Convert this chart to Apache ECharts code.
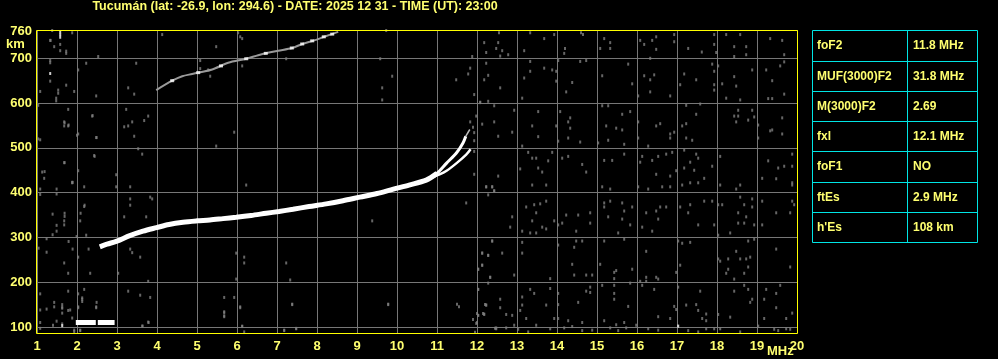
<!DOCTYPE html>
<html><head><meta charset="utf-8">
<script src="https://cdn.jsdelivr.net/npm/echarts@6/dist/echarts.min.js"></script>
<style>html,body{margin:0;padding:0;background:#000;}#c{width:998px;height:359px;}</style>
</head><body><div id="c"></div>
<script>
const titleText = "Tucumán (lat: -26.9, lon: 294.6) - DATE: 2025 12 31 - TIME (UT): 23:00";
const yLabels = [100, 200, 300, 400, 500, 600, 700, 760];
const yGrid = [100, 200, 300, 400, 500, 600, 700];
const tableRows = ["foF2", "MUF(3000)F2", "M(3000)F2", "fxl", "foF1", "ftEs", "h'Es"];
const tableVals = ["11.8 MHz", "31.8 MHz", "2.69", "12.1 MHz", "NO", "2.9 MHz", "108 km"];

// F2 ordinary trace (MHz, km)
const f2Main = [[2.57,279],[2.75,285],[2.98,291],[3.32,304],[3.65,314],[3.99,322],[4.3,329],[4.65,334],[5.0,337],[5.32,339],[5.65,342],[5.98,345],[6.35,349],[6.73,354],[7.05,358],[7.40,363],[7.8,369],[8.23,375],[8.65,382],[9.07,390],[9.5,398],[9.91,408],[10.3,417],[10.73,428],[11.0,443]];
const f2Upper = [[10.9,437],[11.0,443],[11.24,466],[11.49,489],[11.65,511],[11.72,526]];
const f2Tail = [[11.72,526],[11.82,541]];
const f2X = [[10.85,433],[11.05,440],[11.24,449],[11.49,466],[11.73,485],[11.84,497]];
// second-hop F trace
const f2Hop = [[3.98,629],[4.38,650],[4.63,660],[4.88,665],[5.08,669],[5.38,675],[5.78,690],[6.23,699],[6.53,707],[6.8,713],[7.03,717],[7.38,723],[7.63,732],[7.93,740],[8.18,748],[8.53,759]];
const f2HopWhite = [[4.38,650],[5.03,668],[5.6,683],[6.23,699],[6.72,711],[7.37,723],[7.63,732],[7.88,739],[8.17,748],[8.38,754]];
// sporadic E trace
const esTrace = [[1.97,110],[2.47,110],null,[2.52,110],[2.94,110]];
// white isolated echoes
const noiseWhite = [[1.58,759],[1.58,753],[1.58,747],[1.33,666],[1.63,103],[17.03,102]];
// gray noise echoes
const noiseGray = [
[12.55,757],[12.18,735],[12.53,735],[12.48,722],[12.23,713],[12.63,717],[12.58,705],[12.78,708],
[13.33,757],[13.68,744],[13.93,753],[13.18,717],[14.6,757],[14.65,753],[14.2,722],[14.18,711],
[15.18,744],[15.33,735],[15.08,722],[15.33,722],[16.08,740],[16.18,731],[16.38,740],[16.48,748],[16.48,720],[16.93,753],[16.93,737],
[17.28,722],[17.62,714],[17.93,753],[17.93,731],[17.98,713],[18.23,753],[18.58,753],[18.43,726],[18.73,726],[18.73,708],[18.43,704],
[19.33,744],[19.63,740],[19.68,708],
[12.23,689],[13.33,693],[13.68,678],[12.28,662],[12.18,652],[12.58,634],[13.18,656],[13.33,671],[13.88,674],[13.98,671],[13.98,649],[13.13,611],
[14.38,646],[14.23,625],[14.03,695],[14.58,693],[14.73,695],[15.13,661],[15.78,687],[15.88,643],[16.03,616],[16.33,700],[16.18,661],[16.33,652],
[16.43,663],[16.33,625],[16.83,616],[17.08,641],[17.18,665],[17.48,652],[17.88,687],[17.93,671],[17.93,641],[17.93,629],[18.03,683],[18.13,643],
[18.43,659],[18.48,638],[18.23,611],[18.58,607],[18.88,674],[19.23,674],[19.38,650],[19.58,683],[19.68,692],[19.28,610],[19.38,610],[19.68,620],[12.08,601],[12.28,604],
[12.43,594],[12.93,584],[12.43,558],[12.13,553],[12.53,526],[12.88,535],[13.53,581],[13.38,549],[13.53,525],[13.13,504],[14.08,581],[14.33,567],
[14.28,558],[14.33,544],[13.98,549],[14.28,522],[14.03,515],[14.58,513],[15.13,594],[15.28,594],[15.63,575],[15.83,581],[15.23,549],[15.48,544],
[15.63,540],[15.28,517],[15.68,508],[15.03,511],[16.03,558],[16.48,549],[16.58,554],[16.83,531],[16.83,522],[16.93,535],[16.03,522],[16.28,504],
[17.23,595],[17.48,575],[17.58,598],[17.13,549],[17.23,554],[17.23,522],[17.38,517],[18.53,584],[18.43,571],[18.53,571],[18.88,584],[18.93,569],
[18.48,558],[18.78,562],[19.03,551],[19.03,522],[19.33,538],[19.38,540],[19.63,567],[19.63,531],
[13.28,490],[13.38,477],[13.48,477],[13.78,471],[13.88,490],[13.53,455],[13.63,446],[13.08,453],[12.53,437],[14.13,477],[14.28,481],[14.63,463],
[14.73,446],[15.18,472],[15.38,472],[15.68,486],[16.13,481],[16.08,468],[16.38,472],[16.53,481],[16.73,486],[16.88,490],[16.48,441],[16.83,437],
[16.98,449],[17.18,495],[17.33,468],[17.48,486],[17.53,477],[17.18,455],[17.43,450],[17.68,432],[17.88,459],[18.08,481],[19.28,471],[19.53,455],
[19.68,459],[19.88,486],[19.88,459],[19.13,432],[19.48,431],
[12.23,413],[12.38,413],[12.43,404],[13.38,417],[13.73,417],[15.13,413],[15.33,408],[16.03,413],[16.28,408],[16.63,413],[16.83,413],[17.13,417],
[17.33,422],[17.53,422],[18.08,417],[18.58,417],[18.48,408],[19.88,422],[19.88,417],
[12.28,395],[13.23,368],[13.43,373],[13.58,375],[13.73,381],[13.48,355],[12.88,346],[12.83,323],[13.38,337],[13.63,323],[13.73,319],[13.33,310],
[13.48,310],[13.13,314],[13.93,337],[14.03,328],[14.23,350],[14.53,350],[14.83,355],[14.13,332],[14.83,332],[14.48,314],[15.18,377],[15.33,381],
[15.18,368],[15.28,346],[15.63,377],[15.88,368],[15.68,359],[15.53,310],[15.83,328],[15.63,341],[16.23,355],[16.48,359],[16.58,368],[16.73,368],
[16.53,341],[16.13,323],[16.38,314],[17.08,368],[17.28,355],[17.33,373],[17.68,381],[17.88,381],[17.53,328],[17.93,328],[18.03,373],[18.13,373],
[18.58,390],[18.68,373],[18.53,355],[18.73,346],[18.53,332],[18.68,332],[18.88,386],[18.88,368],[19.13,381],[18.93,328],[19.13,328],[19.48,355],
[19.83,355],[19.88,381],[19.93,373],[18.03,305],[18.33,310],
[12.38,292],[12.13,265],[12.28,260],[12.63,265],[12.13,238],[12.03,229],[12.33,211],[13.13,289],[13.13,265],[12.93,216],[14.03,283],[14.43,278],
[14.63,292],[14.48,292],[14.38,240],[14.43,216],[14.73,216],[14.88,216],[13.83,208],[15.08,240],[15.18,292],[15.48,226],[15.43,222],[15.43,208],
[15.88,229],[15.68,296],[16.23,269],[16.23,211],[16.08,202],[16.23,202],[16.48,211],[16.53,207],[16.98,222],[17.03,292],[17.13,287],[17.33,289],
[17.08,238],[18.03,252],[18.08,247],[18.28,252],[18.48,269],[18.58,252],[18.73,252],[18.83,256],[18.28,229],[18.23,220],[18.43,207],[18.68,220],
[18.78,234],[18.78,292],[18.93,296],[19.48,274],[19.83,234],
[12.03,184],[12.28,198],[12.58,162],[12.58,143],[12.23,149],[12.18,128],[12.03,126],[12.73,128],[12.88,126],[12.93,104],[13.13,167],[13.13,149],
[13.08,137],[13.23,119],[13.33,184],[13.43,175],[13.83,186],[13.48,104],[13.73,149],[13.93,119],[14.03,175],[14.03,150],[14.03,119],[14.53,155],
[14.28,114],[14.38,101],[14.63,110],[14.83,189],[14.83,177],[14.73,180],[15.13,193],[15.43,193],[15.43,175],[15.43,162],[15.78,146],[15.18,114],
[15.48,105],[15.68,110],[15.83,198],[16.13,193],[16.43,184],[16.53,123],[16.93,146],[16.98,139],[16.83,119],[17.03,189],[17.23,149],[17.48,150],
[17.58,180],[17.53,137],[17.73,129],[17.73,114],[17.63,119],[18.03,128],[18.33,122],[18.43,180],[18.68,193],[18.78,184],[18.88,162],[18.83,155],
[19.18,162],[19.23,184],[19.48,175],[19.48,143],[19.58,193],[19.18,119],[19.73,119],[19.88,131],
[12.48,98],[12.73,98],[13.03,95],[13.28,89],[13.83,96],[14.18,98],[14.63,92],[14.88,93],[15.33,98],[15.53,92],[15.73,98],[15.98,104],[16.28,96],
[16.53,93],[17.28,92],[17.53,89],[17.73,96],[17.93,96],[18.08,96],[18.58,89],[19.03,102],[19.43,95],[19.53,92],[19.73,96],[19.83,95],
[1.38,762],[1.58,731],[1.43,726],[1.58,717],[1.73,716],[1.73,711],[1.33,695],[1.33,690],[1.33,649],[1.08,626],[1.53,629],[1.53,622],[1.48,611],
[1.48,605],[1.73,640],[1.93,626],[2.03,674],[2.23,689],[2.48,616],[2.53,704],[1.03,595],[1.78,586],[1.68,558],[1.68,549],[1.78,549],[2.03,531],
[2.48,523],[1.03,520],[2.38,571],[2.43,483],[1.68,467],[2.03,449],[1.13,446],[1.18,432],[2.98,440],[1.88,423],[1.34,740],[1.88,757],[1.33,740],
[3.28,634],[3.43,620],[3.48,689],[3.23,586],[3.18,547],[3.28,549],[3.38,558],[3.68,561],[3.78,571],[3.43,526],[3.53,498],[3.63,486],[4.13,753],
[5.08,695],[5.08,677],[5.33,660],[5.28,674],[5.48,726],[5.93,535],[5.48,504],[6.03,757],[6.08,748],[6.13,744],[6.13,683],[7.23,699],
[9.73,762],[9.58,699],[9.88,660],[9.63,634],[9.63,607],[11.48,652],[11.88,704],[11.83,678],[11.78,665],[11.93,619],[11.98,571],[11.83,558],
[11.93,516],[11.93,492],[11.93,441],[12.08,602],[11.93,534],[11.9,546],
[1.88,422],[2.18,413],[2.98,413],[3.33,413],[6.23,417],[3.33,386],[3.33,372],[3.83,390],[3.88,386],[2.18,369],[3.18,346],[3.73,346],[1.68,337],
[1.68,328],[2.08,337],[2.23,305],[3.33,274],[3.38,266],[3.58,256],[2.03,256],[1.68,243],[1.78,220],[2.33,220],[3.03,220],[3.78,202],[3.28,180],
[3.58,171],[3.83,166],[2.18,184],[1.78,180],[2.13,162],[2.03,143],[2.48,143],[1.63,144],[1.63,131],[1.78,137],[1.88,120],[2.08,92],[1.93,90],
[3.63,102],[3.78,111],[5.98,265],[5.98,207],[6.18,256],[6.18,243],[5.68,166],[5.93,166],[5.68,132],[5.68,123],[6.13,101],[6.18,89],[6.08,143],
[7.23,243],[7.33,205],[7.38,150],[7.48,96],[7.18,92],[9.38,337],[9.78,150],[11.73,377],[11.98,108],[12.03,126],[12.18,129],[12.23,149],[12.03,184],
[12.13,265],[12.28,260],[12.03,229],[12.13,238],[12.33,211],[12.38,292],[12.23,413],[12.38,413],[12.43,404],[12.48,96],
[1.08,138],[1.43,145],[1.63,142],[1.63,150],[1.83,138],[2.03,145],[2.48,145],[1.49,113],[1.63,107],[1.40,104],[1.08,110],[1.08,97],[1.93,93],
[2.08,93],[3.64,102],[3.79,110],[5.68,134],[5.68,125],[6.08,145],[6.13,102],[7.38,151],[7.18,93],[7.48,97],[9.78,151],[11.5,151],[11.55,145],
[12.2,150],[12.15,130],[12.0,130],[11.9,117],[12.0,110],[11.95,88],[12.45,97],
[1.69,556],[1.79,551],[2.39,572],[2.49,523],[2.44,481],[2.0,528],[1.08,518],[1.19,447],[1.69,467],[1.89,423],[1.49,408],[1.49,397],[1.08,408],
[1.08,396],[2.19,372],[2.09,354],[1.39,352],[1.69,354],[1.69,347],[1.49,327],[1.49,314],[1.39,306],[1.24,297],[1.24,267],[1.04,276],[1.79,291],
[1.89,274],[1.99,302],[2.29,274],[2.03,174],[2.13,165],[2.13,157],[2.49,155],[1.08,174],[1.43,155],[1.24,140]
];

const YEL = '#ffff70';
const CYAN = '#00e5e5';
const GRIDC = '#777777';
const FONT = '"Liberation Sans", Arial, sans-serif';
const chart = echarts.init(document.getElementById('c'));

const graphic = [];
graphic.push({type:'text', z:10, style:{text:titleText, x:295, y:7, fill:YEL, font:'bold 12.5px ' + FONT, align:'center', verticalAlign:'middle'}});
graphic.push({type:'text', z:10, style:{text:'km', x:6, y:44, fill:YEL, font:'bold 13px ' + FONT, verticalAlign:'middle'}});
graphic.push({type:'text', z:10, style:{text:'MHz', x:767, y:351.5, fill:YEL, font:'bold 13px ' + FONT, verticalAlign:'middle'}});
// plot border
graphic.push({type:'rect', z:10, silent:true, shape:{x:36.5, y:30.5, width:761, height:303}, style:{fill:'none', stroke:'#ffff00', lineWidth:1}});
// table
const tx0 = 812.5, tx1 = 977.5, tcol = 907.5;
const rowY = [30.5, 61.5, 91.5, 121.5, 151.5, 182.5, 212.5, 242.5];
graphic.push({type:'rect', shape:{x:tx0, y:rowY[0], width:tx1-tx0, height:rowY[7]-rowY[0]}, style:{fill:'none', stroke:CYAN, lineWidth:1}});
graphic.push({type:'line', shape:{x1:tcol, y1:rowY[0], x2:tcol, y2:rowY[7]}, style:{stroke:CYAN, lineWidth:1}});
for (let i = 1; i < 7; i++) {
  graphic.push({type:'line', shape:{x1:tx0, y1:rowY[i], x2:tx1, y2:rowY[i]}, style:{stroke:CYAN, lineWidth:1}});
}
for (let i = 0; i < 7; i++) {
  const cy = (rowY[i] + rowY[i+1]) / 2;
  graphic.push({type:'text', style:{text:tableRows[i], x:817, y:cy, fill:YEL, font:'bold 12px ' + FONT, verticalAlign:'middle'}});
  graphic.push({type:'text', style:{text:tableVals[i], x:913, y:cy, fill:YEL, font:'bold 12px ' + FONT, verticalAlign:'middle'}});
}

const lbl = {color:YEL, fontWeight:'bold', fontSize:13, fontFamily:FONT};

chart.setOption({
  backgroundColor:'#000',
  animation:false,
  grid:{left:37, right:201, top:30, bottom:26, show:false},
  xAxis:{type:'value', min:1, max:20, interval:1,
    axisLine:{show:false}, axisTick:{show:false},
    axisLabel:Object.assign({margin:7, showMaxLabel:true, showMinLabel:true}, lbl),
    splitLine:{show:true, lineStyle:{color:GRIDC, width:1}}},
  yAxis:{type:'value', min:86.6, max:763.2,
    axisLine:{show:false}, axisTick:{show:false},
    axisLabel:Object.assign({margin:5, customValues:yLabels}, lbl),
    splitLine:{show:false}},
  graphic: graphic,
  series:[
    {type:'scatter', data:noiseGray, symbol:'rect', symbolSize:[2,3], itemStyle:{color:'#808080'}, silent:true, z:2,
     markLine:{silent:true, symbol:'none', label:{show:false}, lineStyle:{color:GRIDC, type:'solid', width:1}, data:yGrid.map(v=>({yAxis:v})), z:1}},
    {type:'line', data:f2Hop, showSymbol:false, smooth:0.3, lineStyle:{color:'#9a9a9a', width:2}, z:3, silent:true},
    {type:'scatter', data:f2HopWhite, symbol:'rect', symbolSize:[4,3], itemStyle:{color:'#fff'}, z:4, silent:true},
    {type:'line', data:f2Main, showSymbol:false, smooth:0.3, lineStyle:{color:'#fff', width:5}, z:5, silent:true},
    {type:'line', data:f2Upper, showSymbol:false, smooth:0.3, lineStyle:{color:'#fff', width:3}, z:5, silent:true},
    {type:'line', data:f2Tail, showSymbol:false, lineStyle:{color:'#bbb', width:1.5}, z:5, silent:true},
    {type:'line', data:f2X, showSymbol:false, smooth:0.3, lineStyle:{color:'#fff', width:2.5}, z:5, silent:true},
    {type:'line', data:esTrace, showSymbol:false, connectNulls:false, lineStyle:{color:'#fff', width:5}, z:5, silent:true},
    {type:'scatter', data:noiseWhite, symbol:'rect', symbolSize:[2,3], itemStyle:{color:'#fff'}, z:4, silent:true}
  ]
});
</script></body></html>
